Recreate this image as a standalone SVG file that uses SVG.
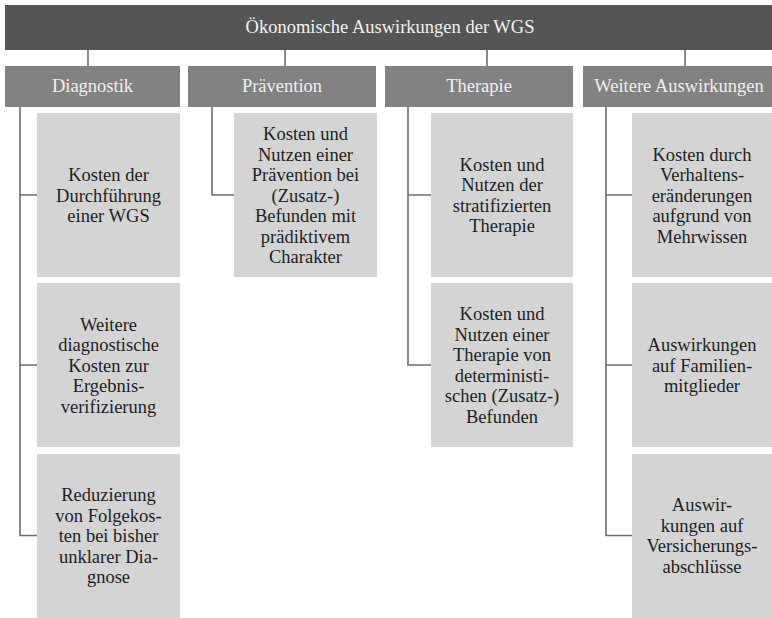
<svg xmlns="http://www.w3.org/2000/svg" width="772" height="618" viewBox="0 0 772 618">
<style>
.top{fill:#555555}
.cat{fill:#828282}
.leaf{fill:#d4d4d4}
.tt{font-family:"Liberation Serif","DejaVu Serif",serif;font-size:18.5px;fill:#f2f2f2;text-anchor:middle}
.ct{font-family:"Liberation Serif","DejaVu Serif",serif;font-size:18.5px;fill:#f0f0f0;text-anchor:middle}
.lt{font-family:"Liberation Serif","DejaVu Serif",serif;font-size:18.5px;fill:#1e1e1e;text-anchor:middle}
.conn{fill:none;stroke:#6e6e6e;stroke-width:1.6}
</style>
<rect width="772" height="618" fill="#ffffff"/>
<g id="connectors">
<path class="conn" d="M88,50V66M285,50V66M487,50V66M685,50V66"/>
<path class="conn" d="M20,107V535.5H37M20,195H37M20,365H37"/>
<path class="conn" d="M212,107V195H234"/>
<path class="conn" d="M408,107V365H431M408,195H431"/>
<path class="conn" d="M606,107V535.5H632M606,195H632M606,365H632"/>
</g>
<g id="root">
<rect class="top" x="5" y="5" width="767" height="45"/>
<text class="tt" x="390" y="33">Ökonomische Auswirkungen der WGS</text>
</g>
<g id="cat-diagnostik">
<rect class="cat" x="5" y="66" width="175" height="41"/>
<text class="ct" x="92.5" y="92">Diagnostik</text>
</g>
<g id="cat-praevention">
<rect class="cat" x="188" y="66" width="188" height="41"/>
<text class="ct" x="282" y="92">Prävention</text>
</g>
<g id="cat-therapie">
<rect class="cat" x="385" y="66" width="188" height="41"/>
<text class="ct" x="479" y="92">Therapie</text>
</g>
<g id="cat-weitere">
<rect class="cat" x="583" y="66" width="189" height="41"/>
<text class="ct" x="679" y="92">Weitere Auswirkungen</text>
</g>
<g id="d1">
<rect class="leaf" x="37" y="113" width="143" height="164"/>
<text class="lt" x="108.5"><tspan x="108.5" y="181">Kosten der</tspan><tspan x="108.5" y="201.5">Durchführung</tspan><tspan x="108.5" y="222">einer WGS</tspan></text>
</g>
<g id="d2">
<rect class="leaf" x="37" y="283" width="143" height="164"/>
<text class="lt" x="108.5"><tspan x="108.5" y="330.5">Weitere</tspan><tspan x="108.5" y="351">diagnostische</tspan><tspan x="108.5" y="371.5">Kosten zur</tspan><tspan x="108.5" y="392">Ergebnis-</tspan><tspan x="108.5" y="412.5">verifizierung</tspan></text>
</g>
<g id="d3">
<rect class="leaf" x="37" y="454" width="143" height="164"/>
<text class="lt" x="108.5"><tspan x="108.5" y="501">Reduzierung</tspan><tspan x="108.5" y="521.5">von Folgekos-</tspan><tspan x="108.5" y="542">ten bei bisher</tspan><tspan x="108.5" y="562.5">unklarer Dia-</tspan><tspan x="108.5" y="583">gnose</tspan></text>
</g>
<g id="p1">
<rect class="leaf" x="234" y="113" width="143" height="164"/>
<text class="lt" x="305.5"><tspan x="305.5" y="140">Kosten und</tspan><tspan x="305.5" y="160.5">Nutzen einer</tspan><tspan x="305.5" y="181">Prävention bei</tspan><tspan x="305.5" y="201.5">(Zusatz-)</tspan><tspan x="305.5" y="222">Befunden mit</tspan><tspan x="305.5" y="242.5">prädiktivem</tspan><tspan x="305.5" y="263">Charakter</tspan></text>
</g>
<g id="t1">
<rect class="leaf" x="431" y="113" width="142" height="164"/>
<text class="lt" x="502"><tspan x="502" y="170.5">Kosten und</tspan><tspan x="502" y="191">Nutzen der</tspan><tspan x="502" y="211.5">stratifizierten</tspan><tspan x="502" y="232">Therapie</tspan></text>
</g>
<g id="t2">
<rect class="leaf" x="431" y="283" width="142" height="164"/>
<text class="lt" x="502"><tspan x="502" y="320">Kosten und</tspan><tspan x="502" y="340.5">Nutzen einer</tspan><tspan x="502" y="361">Therapie von</tspan><tspan x="502" y="381.5">deterministi-</tspan><tspan x="502" y="402">schen (Zusatz-)</tspan><tspan x="502" y="422.5">Befunden</tspan></text>
</g>
<g id="w1">
<rect class="leaf" x="632" y="113" width="140" height="164"/>
<text class="lt" x="702"><tspan x="702" y="160.5">Kosten durch</tspan><tspan x="702" y="181">Verhaltens-</tspan><tspan x="702" y="201.5">eränderungen</tspan><tspan x="702" y="222">aufgrund von</tspan><tspan x="702" y="242.5">Mehrwissen</tspan></text>
</g>
<g id="w2">
<rect class="leaf" x="632" y="283" width="140" height="164"/>
<text class="lt" x="702"><tspan x="702" y="351">Auswirkungen</tspan><tspan x="702" y="371.5">auf Familien-</tspan><tspan x="702" y="392">mitglieder</tspan></text>
</g>
<g id="w3">
<rect class="leaf" x="632" y="454" width="140" height="164"/>
<text class="lt" x="702"><tspan x="702" y="511">Auswir-</tspan><tspan x="702" y="531.5">kungen auf</tspan><tspan x="702" y="552">Versicherungs-</tspan><tspan x="702" y="572.5">abschlüsse</tspan></text>
</g>
</svg>
